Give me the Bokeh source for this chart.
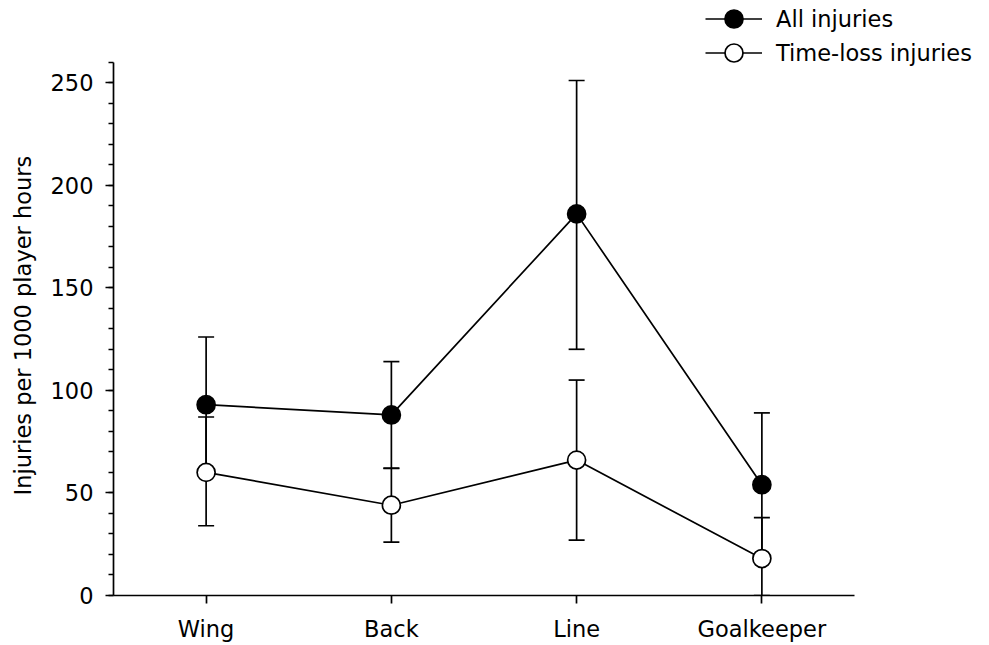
from bokeh.plotting import figure
from bokeh.models import (ColumnDataSource, Whisker, TeeHead, Range1d, FixedTicker,
                          SingleIntervalTicker, Legend, LegendItem, Title)
from bokeh.embed import file_html
from bokeh.resources import INLINE

categories = ["Wing", "Back", "Line", "Goalkeeper"]
all_mean = [93, 88, 186, 54]
all_upper = [126, 114, 251, 89]
all_lower = [60, 62, 120, 19]
tl_mean = [60, 44, 66, 18]
tl_upper = [87, 62, 105, 38]
tl_lower = [34, 26, 27, 0]
series_labels = ["All injuries", "Time-loss injuries"]
y_label = "Injuries per 1000 player hours"

FONT = "DejaVu Sans"
FS = "22.5px"
LW = 1.7

xpos = [i + 0.5 for i in range(len(categories))]
n = len(categories)

p = figure(x_range=Range1d(0, n * 872 / 741), y_range=Range1d(0, 290),
           width=985, height=644, output_backend="svg", toolbar_location=None,
           min_border_left=113, min_border_right=0, min_border_top=0, min_border_bottom=49)
p.outline_line_color = None
p.xgrid.visible = False
p.ygrid.visible = False
p.background_fill_color = "white"

src_all = ColumnDataSource(dict(x=xpos, y=all_mean, lo=all_lower, hi=all_upper))
src_tl = ColumnDataSource(dict(x=xpos, y=tl_mean, lo=tl_lower, hi=tl_upper))

for src in (src_all, src_tl):
    w = Whisker(source=src, base="x", upper="hi", lower="lo",
                line_color="black", line_width=LW, level="underlay",
                upper_head=TeeHead(size=16, line_width=LW, line_color="black"),
                lower_head=TeeHead(size=16, line_width=LW, line_color="black"))
    p.add_layout(w)

l1 = p.line("x", "y", source=src_all, line_color="black", line_width=LW)
s1 = p.scatter("x", "y", source=src_all, size=18, fill_color="black", line_color="black", line_width=LW)
l2 = p.line("x", "y", source=src_tl, line_color="black", line_width=LW)
s2 = p.scatter("x", "y", source=src_tl, size=18, fill_color="white", line_color="black", line_width=LW)

legend_style = dict(glyph_width=57, glyph_height=45, label_standoff=14, padding=0, margin=0,
                    border_line_color=None, background_fill_alpha=0, label_text_font=FONT,
                    label_text_font_size=FS, label_text_color="black")
leg1 = Legend(items=[LegendItem(label=series_labels[0], renderers=[l1, s1])],
              location=(592, 554), **legend_style)
leg2 = Legend(items=[LegendItem(label=series_labels[1], renderers=[l2, s2])],
              location=(592, 520), **legend_style)
p.add_layout(leg1, "center")
p.add_layout(leg2, "center")

ya = p.yaxis[0]
ya.ticker = SingleIntervalTicker(interval=50, num_minor_ticks=5)
ya.bounds = (0, 260)
xa = p.xaxis[0]
xa.ticker = FixedTicker(ticks=xpos)
xa.major_label_overrides = {x: c for x, c in zip(xpos, categories)}
xa.bounds = (0, n)
for ax in (xa, ya):
    ax.axis_line_width = LW
    ax.axis_line_color = "black"
    ax.major_tick_line_width = LW
    ax.major_tick_line_color = "black"
    ax.minor_tick_line_color = "black"
    ax.minor_tick_line_width = 1.3
    ax.major_tick_out = 8
    ax.major_tick_in = 0
    ax.minor_tick_out = 5
    ax.minor_tick_in = 0
    ax.major_label_text_font = FONT
    ax.major_label_text_font_size = FS
    ax.major_label_text_color = "black"
xa.minor_tick_out = 0
ya.major_label_standoff = 12
xa.major_label_standoff = 12

ytitle = Title(text=y_label, align="left", offset=100, standoff=19, vertical_align="top",
               text_font=FONT, text_font_size=FS, text_font_style="normal",
               text_color="black")
p.add_layout(ytitle, "left")

open("out.html", "w").write(file_html(p, INLINE))
